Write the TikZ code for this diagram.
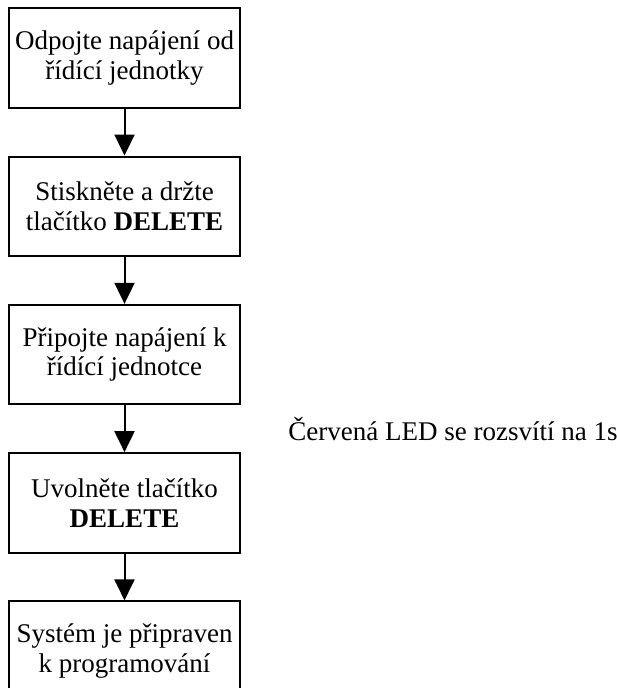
\documentclass[tikz,border=0pt]{standalone}
\usepackage{fontspec}
\setmainfont{Liberation Serif}
\usetikzlibrary{arrows.meta,positioning,calc}

\begin{document}
\begin{tikzpicture}[
  stepbox/.style={draw, line width=1pt,
              minimum width=115.5pt, minimum height=49.75pt,
              align=center, inner sep=2pt,
              font=\fontsize{13.5}{14.8}\selectfont},
  note/.style={font=\fontsize{13.5}{14.8}\selectfont, inner sep=0pt},
  flow/.style={-{Triangle[width=10pt,length=10.5pt]}, line width=1pt},
  node distance=23.4pt
]
\useasboundingbox (-62.25pt,29pt) rectangle (245.75pt,-315pt);
\node[stepbox] (unplug)  at (0,0)            {Odpojte napájení od\\řídící jednotky};
\node[stepbox] (hold)    [below=of unplug]   {Stiskněte a držte\\tlačítko \textbf{DELETE}};
\node[stepbox] (plug)    [below=of hold]     {Připojte napájení k\\řídící jednotce};
\node[stepbox] (release) [below=of plug]     {Uvolněte tlačítko\\\textbf{DELETE}};
\node[stepbox] (ready)   [below=of release]  {Systém je připraven\\k programování};

\node[note, anchor=west] (led) at ($(plug.south east)!0.5!(release.north east)+(23.5pt,0)$)
  {Červená LED se rozsvítí na 1s};

\draw[flow] (unplug)  -- (hold);
\draw[flow] (hold)    -- (plug);
\draw[flow] (plug)    -- (release);
\draw[flow] (release) -- (ready);
\end{tikzpicture}
\end{document}
